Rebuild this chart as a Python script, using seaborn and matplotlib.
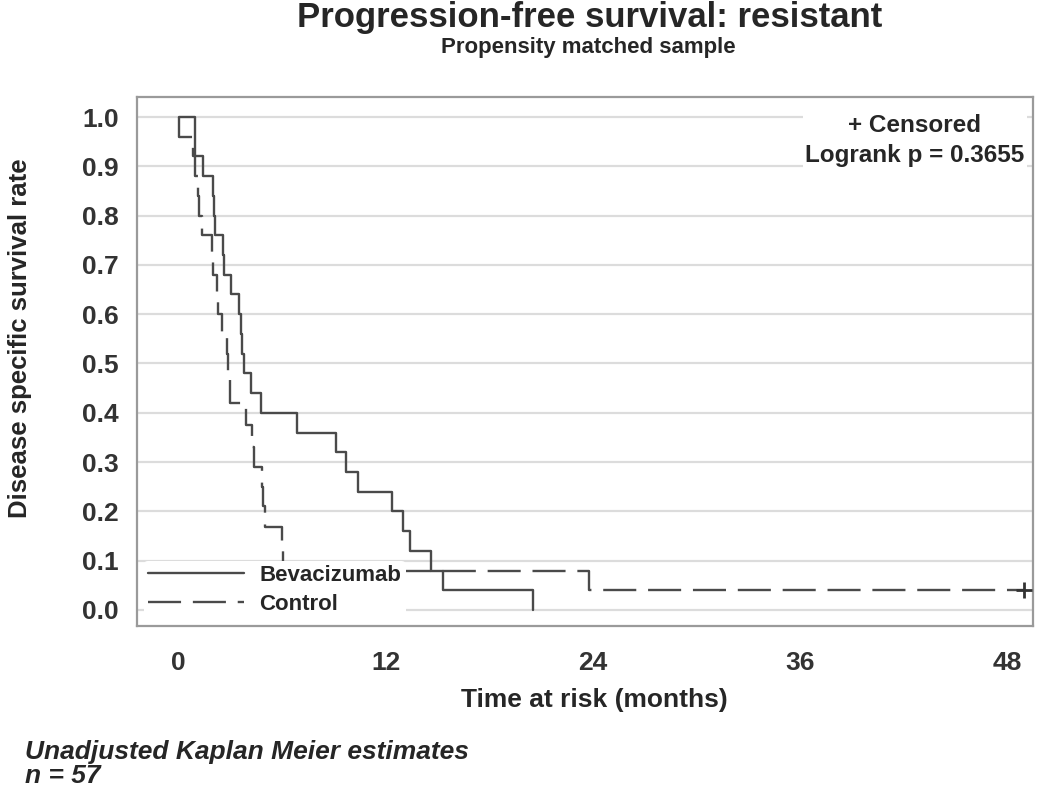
import numpy as np
import pandas as pd
import matplotlib
matplotlib.use('Agg')
import matplotlib.pyplot as plt
from matplotlib.lines import Line2D
import seaborn as sns

# ---- data (months, survival after each event) ----
bev_time = [0.92, 1.38, 1.96, 2.07, 2.10, 2.59, 2.62, 3.05, 3.50, 3.58, 3.66, 3.80,
            4.20, 4.78, 6.86, 9.10, 9.68, 10.40, 12.33, 13.00, 13.40, 14.60, 15.30, 20.50]
bev_surv = [0.92, 0.88, 0.84, 0.80, 0.76, 0.72, 0.68, 0.64, 0.60, 0.56, 0.52, 0.48,
            0.44, 0.40, 0.36, 0.32, 0.28, 0.24, 0.20, 0.16, 0.12, 0.08, 0.04, 0.00]

ctl_time = [0.02, 0.80, 0.92, 1.10, 1.15, 1.33, 1.90, 1.96, 2.20, 2.25, 2.50, 2.80,
            2.85, 2.95, 3.92, 4.27, 4.35, 4.80, 4.90, 5.00, 6.00, 6.05, 23.75]
ctl_surv = [0.96, 0.92, 0.88, 0.84, 0.80, 0.76, 0.72, 0.68, 0.64, 0.60, 0.56, 0.52,
            0.48, 0.42, 0.375, 0.33, 0.29, 0.25, 0.21, 0.168, 0.12, 0.08, 0.04]
ctl_censor_time = 49.0

groups = ['Bevacizumab', 'Control']
x_ticks = [0, 12, 24, 36, 48]
y_ticks = [0.0, 0.1, 0.2, 0.3, 0.4, 0.5, 0.6, 0.7, 0.8, 0.9, 1.0]

# step data for each arm
bev_df = pd.DataFrame({'time': [0.0] + bev_time, 'surv': [1.0] + bev_surv, 'group': groups[0]})
ctl_df = pd.DataFrame({'time': [0.0] + ctl_time + [ctl_censor_time],
                       'surv': [1.0] + ctl_surv + [ctl_surv[-1]], 'group': groups[1]})
km = pd.concat([bev_df, ctl_df], ignore_index=True)

sns.set_style('white')
plt.rcParams['font.family'] = ['Liberation Sans', 'DejaVu Sans']
plt.rcParams['font.weight'] = 'bold'

line_col = '#4a4a4a'
fig = plt.figure(figsize=(10.5, 8.11), dpi=100)
ax = fig.add_axes([137 / 1050, 1 - 626 / 811, (1033 - 137) / 1050, (626 - 97) / 811])

for y in y_ticks:
    ax.axhline(y, color='#dcdcdc', lw=1.6, zorder=0)

sns.lineplot(data=km, x='time', y='surv', style='group',
             dashes={'Bevacizumab': '', 'Control': (14, 5)},
             color=line_col, linewidth=1.7, drawstyle='steps-post',
             estimator=None, sort=False, legend=False, ax=ax)

# censored observation
sns.scatterplot(x=[ctl_censor_time], y=[ctl_surv[-1]], marker='+', s=130,
                color='#333333', linewidth=2, ax=ax, zorder=5)

ax.set_xlim(-2.42, 49.5)
ax.set_ylim(-0.0325, 1.0406)
ax.set_xticks(x_ticks)
ax.set_yticks(y_ticks)
ax.set_yticklabels(['%.1f' % v for v in y_ticks])
ax.tick_params(axis='both', direction='out', length=8, width=1.2, color='#999999',
               labelsize=19, labelcolor='#333333', pad=5)
ax.tick_params(axis='x', pad=10)
for lab in ax.get_xticklabels() + ax.get_yticklabels():
    lab.set_fontweight('bold')
for s in ax.spines.values():
    s.set_color('#9a9a9a')
    s.set_linewidth(1.6)

ax.set_xlabel('Time at risk (months)', fontsize=19, fontweight='bold')
ax.set_ylabel('Disease specific survival rate', fontsize=18.5, fontweight='bold')
ax.xaxis.set_label_coords((594 - 137) / 896, -(688 - 626) / 529)
ax.yaxis.set_label_coords(-(137 - 32) / 896, (626 - 338) / 529)

# legend lower left
handles = [Line2D([], [], color=line_col, lw=1.7),
           Line2D([], [], color=line_col, lw=1.7, dashes=(14, 5))]
leg = ax.legend(handles, groups, loc='lower left', bbox_to_anchor=(0.0, 0.0),
                frameon=True, facecolor='white', edgecolor='none', framealpha=1,
                fontsize=16, handlelength=4.3, handletextpad=0.7, labelspacing=0.35,
                borderpad=0.2, borderaxespad=0.3)
for t in leg.get_texts():
    t.set_fontweight('bold')

ax.text((915 - 137) / 896, (626 - 114) / 529, '+ Censored\nLogrank p = 0.3655',
        transform=ax.transAxes, ha='center', va='top', multialignment='center',
        fontsize=17.5, fontweight='bold', linespacing=1.4,
        bbox=dict(facecolor='white', edgecolor='none', pad=2))

fig.text(590 / 1050, 1 - 18 / 811, 'Progression-free survival: resistant',
         ha='center', va='center', fontsize=25, fontweight='bold')
fig.text(588 / 1050, 1 - 48 / 811, 'Propensity matched sample',
         ha='center', va='center', fontsize=16, fontweight='bold')

fig.text(25 / 1050, 1 - 752 / 811, 'Unadjusted Kaplan Meier estimates',
         ha='left', va='center', fontsize=19, fontweight='bold', style='italic')
fig.text(25 / 1050, 1 - 776 / 811, 'n = 57',
         ha='left', va='center', fontsize=19, fontweight='bold', style='italic')

fig.savefig('out.png', dpi=100)
